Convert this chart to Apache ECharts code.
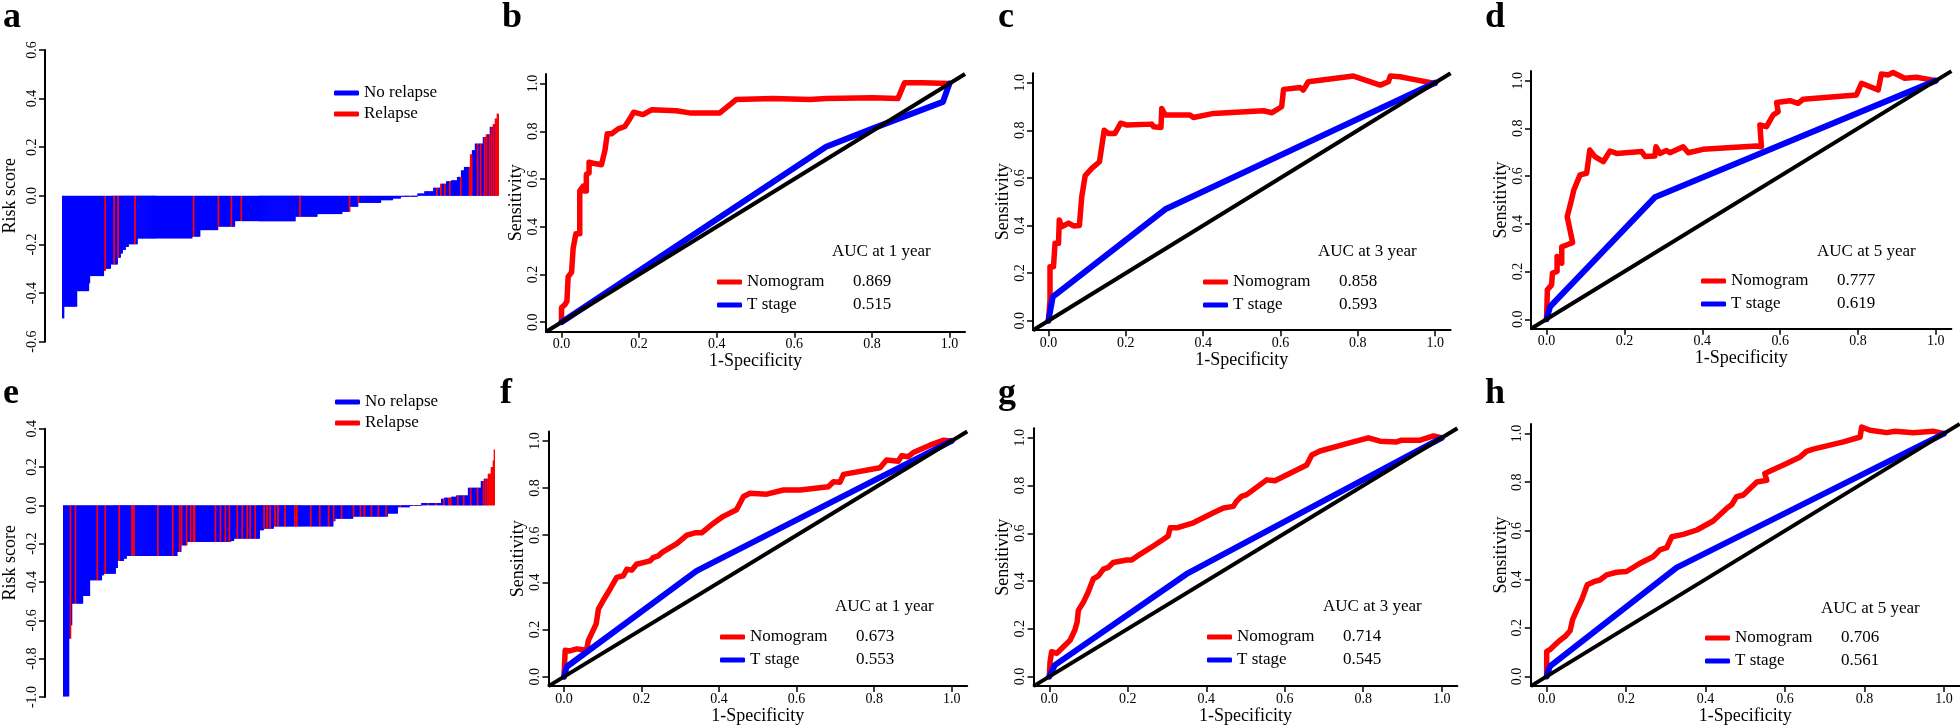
<!DOCTYPE html>
<html>
<head>
<meta charset="utf-8">
<script src="https://cdn.jsdelivr.net/npm/echarts@6.0.0/dist/echarts.min.js"></script>
<style>
  html, body { margin: 0; padding: 0; background: #fff; }
  #chart { width: 1960px; height: 726px; }
</style>
</head>
<body>
<div id="chart"></div>
<script>
const FONT = 'Liberation Serif';
const RED = '#ff0000';
const BLUE = '#0000ff';

const rocTicks = [0, 0.2, 0.4, 0.6, 0.8, 1.0];

// risk score waterfalls: sorted scores as (level, number of patients) runs
const riskLevelsA = [-0.504, -0.456, -0.392, -0.36, -0.33, -0.308, -0.30, -0.282, -0.255, -0.237, -0.223, -0.21, -0.199, -0.175, -0.168, -0.141, -0.127, -0.104, -0.086, -0.075, -0.066, -0.045, -0.029, -0.018, -0.011, -0.004, 0.01, 0.019, 0.033, 0.05, 0.06, 0.064, 0.078, 0.105, 0.119, 0.171, 0.188, 0.215, 0.242, 0.253, 0.284, 0.295, 0.318, 0.338];
const riskCountsA = [2, 13, 12, 1, 14, 2, 5, 7, 3, 2, 3, 3, 9, 55, 8, 18, 17, 61, 22, 25, 8, 8, 23, 12, 8, 17, 7, 9, 7, 6, 5, 6, 4, 3, 6, 2, 3, 8, 3, 4, 3, 2, 2, 2];
const relapseA = [43, 52, 56, 73, 132, 157, 170, 180, 239, 289, 298, 350, 377, 381, 385, 390, 401, 410, 411, 412, 418, 421, 425, 427, 430, 432, 434, 436, 437, 438, 439];

const riskLevelsE = [-0.997, -0.696, -0.626, -0.513, -0.473, -0.391, -0.365, -0.357, -0.327, -0.29, -0.278, -0.264, -0.243, -0.209, -0.191, -0.186, -0.174, -0.13, -0.122, -0.11, -0.083, -0.07, -0.059, -0.043, -0.01, -0.003, 0.012, 0.035, 0.04, 0.045, 0.052, 0.092, 0.127, 0.139, 0.165, 0.2, 0.235, 0.292];
const riskCountsE = [6, 2, 1, 11, 7, 12, 2, 12, 2, 6, 3, 51, 4, 6, 44, 3, 26, 4, 10, 60, 2, 18, 35, 10, 12, 12, 20, 3, 7, 5, 12, 13, 3, 4, 3, 2, 1, 1];
const relapseE = [7, 12, 34, 42, 56, 69, 71, 95, 110, 117, 119, 124, 128, 131, 132, 153, 158, 163, 167, 175, 180, 185, 188, 193, 202, 205, 208, 213, 216, 223, 233, 235, 249, 258, 267, 272, 280, 292, 299, 303, 310, 317, 325, 339, 353, 358, 367, 375, 383, 388, 390, 397, 403, 410, 417, 423, 425, 427, 428, 429, 430, 431, 432, 433, 434];

// ROC curves [1-specificity, sensitivity]
const nomoB = [[0, 0], [0, 0.06], [0.009, 0.074], [0.014, 0.088], [0.017, 0.19], [0.026, 0.21], [0.03, 0.31], [0.037, 0.37], [0.047, 0.37], [0.047, 0.55], [0.056, 0.57], [0.058, 0.55], [0.064, 0.55], [0.064, 0.62], [0.071, 0.625], [0.071, 0.67], [0.082, 0.666], [0.103, 0.66], [0.112, 0.72], [0.118, 0.79], [0.129, 0.79], [0.146, 0.81], [0.163, 0.82], [0.174, 0.847], [0.186, 0.88], [0.21, 0.87], [0.232, 0.89], [0.296, 0.886], [0.33, 0.877], [0.408, 0.877], [0.45, 0.933], [0.545, 0.937], [0.64, 0.933], [0.682, 0.937], [0.803, 0.94], [0.867, 0.937], [0.884, 1.003], [0.931, 1.003], [1, 1]];
const tstageB = [[0, 0], [0.682, 0.735], [0.803, 0.812], [0.983, 0.923], [1, 1]];
const aucB = ['0.869', '0.515'];

const nomoC = [[0, 0], [0.004, 0.087], [0.004, 0.227], [0.013, 0.227], [0.017, 0.325], [0.026, 0.325], [0.028, 0.423], [0.034, 0.395], [0.052, 0.41], [0.065, 0.398], [0.08, 0.4], [0.086, 0.52], [0.095, 0.61], [0.112, 0.64], [0.132, 0.668], [0.144, 0.8], [0.155, 0.787], [0.172, 0.787], [0.187, 0.83], [0.203, 0.822], [0.267, 0.826], [0.272, 0.815], [0.291, 0.812], [0.293, 0.892], [0.302, 0.864], [0.366, 0.864], [0.375, 0.854], [0.427, 0.871], [0.556, 0.882], [0.578, 0.874], [0.603, 0.899], [0.608, 0.902], [0.608, 0.972], [0.651, 0.98], [0.659, 0.969], [0.672, 1.004], [0.789, 1.028], [0.858, 0.99], [0.879, 1.004], [0.884, 1.028], [0.909, 1.025], [0.944, 1.014], [1, 0.997]];
const tstageC = [[0, 0], [0.011, 0.1], [0.302, 0.468], [1, 1]];
const aucC = ['0.858', '0.593'];

const nomoD = [[0, 0], [0.002, 0.123], [0.013, 0.144], [0.015, 0.193], [0.027, 0.2], [0.027, 0.263], [0.039, 0.235], [0.039, 0.304], [0.051, 0.311], [0.067, 0.321], [0.053, 0.43], [0.064, 0.5], [0.07, 0.542], [0.086, 0.605], [0.103, 0.612], [0.111, 0.709], [0.124, 0.682], [0.146, 0.661], [0.163, 0.705], [0.18, 0.695], [0.244, 0.703], [0.253, 0.682], [0.278, 0.684], [0.281, 0.723], [0.291, 0.695], [0.308, 0.707], [0.317, 0.698], [0.351, 0.723], [0.364, 0.698], [0.402, 0.712], [0.539, 0.726], [0.552, 0.723], [0.548, 0.814], [0.565, 0.807], [0.582, 0.856], [0.595, 0.87], [0.591, 0.908], [0.625, 0.916], [0.646, 0.905], [0.659, 0.922], [0.796, 0.94], [0.809, 0.989], [0.852, 0.961], [0.86, 1.028], [0.878, 1.024], [0.89, 1.034], [0.92, 1.01], [0.95, 1.014], [1, 1]];
const tstageD = [[0, 0], [0.009, 0.053], [0.278, 0.511], [1, 1]];
const aucD = ['0.777', '0.619'];

const nomoF = [[0, 0], [0.003, 0.112], [0.015, 0.109], [0.033, 0.118], [0.058, 0.112], [0.063, 0.154], [0.083, 0.224], [0.089, 0.288], [0.101, 0.323], [0.119, 0.372], [0.136, 0.421], [0.153, 0.428], [0.162, 0.456], [0.175, 0.452], [0.187, 0.477], [0.222, 0.491], [0.23, 0.505], [0.243, 0.512], [0.252, 0.526], [0.291, 0.564], [0.317, 0.6], [0.338, 0.61], [0.355, 0.61], [0.381, 0.645], [0.411, 0.68], [0.445, 0.708], [0.463, 0.764], [0.48, 0.778], [0.523, 0.774], [0.566, 0.792], [0.609, 0.792], [0.682, 0.806], [0.695, 0.827], [0.712, 0.825], [0.721, 0.858], [0.815, 0.886], [0.832, 0.919], [0.862, 0.914], [0.871, 0.937], [0.888, 0.933], [0.901, 0.951], [0.944, 0.982], [0.978, 1.003], [1, 1]];
const tstageF = [[0, 0], [0.007, 0.042], [0.342, 0.449], [1, 1]];
const aucF = ['0.673', '0.553'];

const nomoG = [[0, 0], [0.002, 0.062], [0.006, 0.104], [0.019, 0.097], [0.036, 0.125], [0.053, 0.152], [0.065, 0.194], [0.071, 0.229], [0.074, 0.277], [0.087, 0.312], [0.099, 0.353], [0.112, 0.409], [0.125, 0.422], [0.138, 0.45], [0.15, 0.457], [0.163, 0.478], [0.197, 0.488], [0.21, 0.488], [0.231, 0.512], [0.265, 0.547], [0.291, 0.575], [0.303, 0.589], [0.308, 0.623], [0.325, 0.623], [0.367, 0.644], [0.418, 0.686], [0.444, 0.706], [0.469, 0.713], [0.477, 0.734], [0.49, 0.755], [0.503, 0.762], [0.554, 0.824], [0.575, 0.82], [0.656, 0.886], [0.669, 0.928], [0.69, 0.945], [0.758, 0.976], [0.813, 1.0], [0.843, 0.986], [0.885, 0.983], [0.898, 0.99], [0.945, 0.99], [0.979, 1.008], [1, 1]];
const tstageG = [[0, 0], [0.014, 0.048], [0.35, 0.43], [1, 1]];
const aucG = ['0.714', '0.545'];

const nomoH = [[0, 0], [0, 0.103], [0.008, 0.11], [0.021, 0.13], [0.032, 0.147], [0.046, 0.164], [0.059, 0.188], [0.065, 0.233], [0.076, 0.274], [0.088, 0.315], [0.102, 0.377], [0.119, 0.39], [0.134, 0.397], [0.151, 0.418], [0.176, 0.429], [0.201, 0.432], [0.235, 0.466], [0.268, 0.493], [0.285, 0.521], [0.302, 0.53], [0.315, 0.575], [0.344, 0.585], [0.378, 0.603], [0.419, 0.64], [0.453, 0.692], [0.466, 0.708], [0.478, 0.74], [0.495, 0.747], [0.529, 0.801], [0.554, 0.808], [0.549, 0.836], [0.604, 0.877], [0.638, 0.904], [0.654, 0.927], [0.671, 0.936], [0.747, 0.966], [0.789, 0.986], [0.793, 1.027], [0.814, 1.014], [0.856, 1.004], [0.877, 1.01], [0.923, 1.004], [0.973, 1.01], [1, 1]];
const tstageH = [[0, 0], [0.008, 0.041], [0.327, 0.448], [1, 1]];
const aucH = ['0.706', '0.561'];

// panel layout (pixels)
const riskPanels = [
  { levels: riskLevelsA, counts: riskCountsA, relapse: relapseA, left: 59, top: 50, height: 291.7, axisX: 42, min: -0.6, max: 0.6, legLeft: 334, legTop: 83.5 },
  { levels: riskLevelsE, counts: riskCountsE, relapse: relapseE, left: 60, top: 428.7, height: 268.3, axisX: 42, min: -1.0, max: 0.4, legLeft: 335, legTop: 392.5 }
];

const rocPanels = [
  { nomo: nomoB, tstage: tstageB, auc: aucB, year: 1, left: 546, top: 74, width: 419, height: 257.7, aucLeft: 832, aucY: 252, legLeft: 717, legY: 282 },
  { nomo: nomoC, tstage: tstageC, auc: aucC, year: 3, left: 1033, top: 73.2, width: 417.6, height: 257, aucLeft: 1318, aucY: 252, legLeft: 1203, legY: 282 },
  { nomo: nomoD, tstage: tstageD, auc: aucD, year: 5, left: 1531, top: 71.1, width: 420.4, height: 257.7, aucLeft: 1817, aucY: 252, legLeft: 1701, legY: 281 },
  { nomo: nomoF, tstage: tstageF, auc: aucF, year: 1, left: 548.5, top: 431.5, width: 418.7, height: 256.7, aucLeft: 835, aucY: 607, legLeft: 720, legY: 637 },
  { nomo: nomoG, tstage: tstageG, auc: aucG, year: 3, left: 1033.6, top: 428.3, width: 423.8, height: 260, aucLeft: 1323, aucY: 607, legLeft: 1207, legY: 637 },
  { nomo: nomoH, tstage: tstageH, auc: aucH, year: 5, left: 1530.8, top: 423.9, width: 429, height: 262.8, aucLeft: 1821, aucY: 609, legLeft: 1705, legY: 638 }
];

const letters = [['a', 3, 0], ['b', 502, 0], ['c', 998, 0], ['d', 1485, 0], ['e', 3, 376], ['f', 500, 376], ['g', 998, 376], ['h', 1485, 376]];

function expand(levels, counts) {
  const out = [];
  levels.forEach((v, i) => {
    for (let k = 0; k < counts[i]; k++) out.push(v);
  });
  return out;
}

const axisLine = { show: true, onZero: false, lineStyle: { color: '#000', width: 2 } };
const axisTick = { show: true, length: 6, lineStyle: { color: '#000', width: 1.5 } };
const tickFont = { fontFamily: FONT, fontSize: 14, color: '#000' };
const nameFont = { fontFamily: FONT, fontSize: 18, color: '#000' };
const fmt = v => v.toFixed(1);

const grid = [], xAxis = [], yAxis = [], series = [], legend = [], title = [];

riskPanels.forEach(p => {
  const gi = grid.length;
  const scores = expand(p.levels, p.counts);
  const rel = new Set(p.relapse);
  grid.push({ left: p.left, top: p.top, width: scores.length, height: p.height });
  xAxis.push({ gridIndex: gi, type: 'category', data: scores.map((_, i) => i + 1), show: false });
  yAxis.push({
    gridIndex: gi, type: 'value', min: p.min, max: p.max, interval: 0.2, offset: p.left - p.axisX,
    axisLine, axisTick, splitLine: { show: false },
    axisLabel: { ...tickFont, rotate: 90, margin: 6, formatter: fmt },
    name: 'Risk score', nameLocation: 'middle', nameRotate: 90, nameGap: 26, nameTextStyle: nameFont
  });
  // bars slightly wider than their 1px slot so neighbours overlap and leave no seams
  series.push({
    type: 'bar', name: 'No relapse', xAxisIndex: gi, yAxisIndex: gi,
    barGap: '-100%', barWidth: 1.7, itemStyle: { color: BLUE },
    data: scores.map((v, i) => rel.has(i) ? '-' : v)
  });
  series.push({
    type: 'bar', name: 'Relapse', xAxisIndex: gi, yAxisIndex: gi,
    barGap: '-100%', barWidth: 1.7, itemStyle: { color: RED },
    data: scores.map((v, i) => rel.has(i) ? v : '-')
  });
  legend.push({
    data: ['No relapse', 'Relapse'], orient: 'vertical', left: p.legLeft, top: p.legTop, padding: 0,
    icon: 'roundRect', itemWidth: 25, itemHeight: 5, itemGap: 2, selectedMode: false,
    itemStyle: { borderWidth: 0 },
    textStyle: { fontFamily: FONT, fontSize: 17, color: '#000', lineHeight: 19 }
  });
});

rocPanels.forEach(p => {
  const gi = grid.length;
  grid.push({ left: p.left, top: p.top, width: p.width, height: p.height });
  xAxis.push({
    gridIndex: gi, type: 'value', min: -0.04, max: 1.04,
    axisLine, splitLine: { show: false },
    axisTick: { ...axisTick, customValues: rocTicks },
    axisLabel: { ...tickFont, margin: 6, customValues: rocTicks, formatter: fmt },
    name: '1-Specificity', nameLocation: 'middle', nameGap: 17, nameTextStyle: nameFont
  });
  yAxis.push({
    gridIndex: gi, type: 'value', min: -0.04, max: 1.04,
    axisLine, splitLine: { show: false },
    axisTick: { ...axisTick, customValues: rocTicks },
    axisLabel: { ...tickFont, rotate: 90, margin: 6, customValues: rocTicks, formatter: fmt },
    name: 'Sensitivity', nameLocation: 'middle', nameRotate: 90, nameGap: 20, nameTextStyle: nameFont
  });
  const common = { type: 'line', xAxisIndex: gi, yAxisIndex: gi, showSymbol: false, symbol: 'none', silent: true };
  series.push({ ...common, name: 'Nomogram', data: p.nomo, itemStyle: { color: RED },
    lineStyle: { color: RED, width: 5.5, cap: 'round', join: 'round' } });
  series.push({ ...common, name: 'T stage', data: p.tstage, itemStyle: { color: BLUE },
    lineStyle: { color: BLUE, width: 6, cap: 'round', join: 'round' } });
  series.push({ ...common, name: 'Reference', data: [[-0.04, -0.04], [1.04, 1.04]],
    lineStyle: { color: '#000', width: 4 } });
  const aucOf = { 'Nomogram': p.auc[0], 'T stage': p.auc[1] };
  legend.push({
    data: ['Nomogram', 'T stage'], orient: 'vertical', left: p.legLeft, top: p.legY - 10.5, padding: 0,
    icon: 'roundRect', itemWidth: 25, itemHeight: 5, itemGap: 2, selectedMode: false,
    itemStyle: { borderWidth: 0 },
    formatter: name => '{n|' + name + '}{v|' + aucOf[name] + '}',
    textStyle: {
      fontFamily: FONT, fontSize: 17, color: '#000', lineHeight: 21,
      rich: {
        n: { width: 106, fontFamily: FONT, fontSize: 17, color: '#000' },
        v: { fontFamily: FONT, fontSize: 17, color: '#000' }
      }
    }
  });
  title.push({
    text: 'AUC at ' + p.year + ' year', left: p.aucLeft, top: p.aucY - 10, padding: 0,
    textStyle: { fontFamily: FONT, fontSize: 17, fontWeight: 'normal', color: '#000', lineHeight: 20 }
  });
});

letters.forEach(([t, x, y]) => {
  title.push({
    text: t, left: x, top: y, padding: 0,
    textStyle: { fontFamily: FONT, fontSize: 36, fontWeight: 'bold', color: '#000', lineHeight: 36 }
  });
});

const chart = echarts.init(document.getElementById('chart'));
chart.setOption({
  animation: false,
  backgroundColor: '#fff',
  textStyle: { fontFamily: FONT },
  title, legend, grid, xAxis, yAxis, series
});
</script>
</body>
</html>
